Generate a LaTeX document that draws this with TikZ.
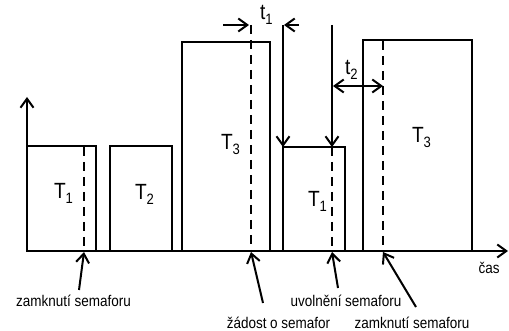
\documentclass[tikz,border=0pt]{standalone}
\usepackage{fontspec}
\setmainfont{Liberation Sans}[FakeStretch=0.87]
\usetikzlibrary{arrows.meta}
\newcommand\Tsub[2]{#1\raisebox{-5pt}{\fontsize{15}{15}\selectfont #2}}
\begin{document}
\begin{tikzpicture}[x=1pt,y=-1pt,line width=2pt,
  arr/.style={-{Straight Barb[length=9pt,width=13pt]}},
  dbl/.style={{Straight Barb[length=9pt,width=13pt]}-{Straight Barb[length=9pt,width=13pt]}},
  dsh/.style={dash pattern=on 9pt off 6pt},
  lbl/.style={font=\fontsize{15.5}{16}\selectfont,inner sep=0pt,anchor=base},
  tl/.style={font=\fontsize{22}{22}\selectfont,inner sep=0pt,anchor=base west}]
\useasboundingbox (0,0) rectangle (509,331);
% axes
\coordinate (O) at (27,251);
\coordinate (ytip) at (27,97);
\coordinate (xtip) at (508,251);
\draw[arr] (O) -- (ytip);
\draw[arr] (O) -- (xtip);
% boxes
\draw (27,251) rectangle (96,146);
\draw (110,251) rectangle (172,146);
\draw (182,251) rectangle (270,42);
\draw (283,251) rectangle (345,147);
\draw (363,251) rectangle (472,40);
% dashed lines
\coordinate (d1t) at (84,147);  \coordinate (d1b) at (84,251);
\coordinate (d2t) at (251,25);  \coordinate (d2b) at (251,251);
\coordinate (d3t) at (332,147); \coordinate (d3b) at (332,251);
\coordinate (d4t) at (383,41);  \coordinate (d4b) at (383,251);
\draw[dsh] (d1t) -- (d1b);
\draw[dsh] (d2t) -- (d2b);
\draw[dsh] (d3t) -- (d3b);
\draw[dsh] (d4t) -- (d4b);
% t1 markers
\coordinate (a1s) at (223,25); \coordinate (a1e) at (249,25);
\coordinate (a2s) at (299,25); \coordinate (a2e) at (284,25);
\coordinate (v1t) at (283,25); \coordinate (v1b) at (283,147);
\coordinate (v2t) at (332,25); \coordinate (v2b) at (332,147);
\draw[arr] (a1s) -- (a1e);
\draw[arr] (a2s) -- (a2e);
\draw[arr] (v1t) -- (v1b);
\draw[arr] (v2t) -- (v2b);
% t2
\coordinate (t2a) at (333,86); \coordinate (t2b) at (383,86);
\draw[dbl] (t2a) -- (t2b);
% task labels
\node[tl] (T1a) at (53,199) {\Tsub{T}{1}};
\node[tl] (T2)  at (134,200) {\Tsub{T}{2}};
\node[tl] (T3a) at (220,150) {\Tsub{T}{3}};
\node[tl] (T1b) at (307,207) {\Tsub{T}{1}};
\node[tl] (T3b) at (411,143) {\Tsub{T}{3}};
\node[tl] (lt1) at (259,20) {\Tsub{t}{1}};
\node[tl] (lt2) at (344,75) {\Tsub{t}{2}};
% bottom labels
\node[lbl] (zam1) at (73.5,307) {zamknutí semaforu};
\node[lbl] (zad)  at (278.5,328) {žádost o semafor};
\node[lbl] (uvo)  at (346,307) {uvolnění semaforu};
\node[lbl] (zam2) at (412,328) {zamknutí semaforu};
\node[lbl] (cas)  at (489,273) {čas};
% callout arrows
\coordinate (c1s) at (79,290);  \coordinate (c1e) at (84,252);
\coordinate (c2s) at (263,303); \coordinate (c2e) at (251,252);
\coordinate (c3s) at (338,288); \coordinate (c3e) at (332,252);
\coordinate (c4s) at (416,307); \coordinate (c4e) at (383,252);
\draw[arr] (c1s) -- (c1e);
\draw[arr] (c2s) -- (c2e);
\draw[arr] (c3s) -- (c3e);
\draw[arr] (c4s) -- (c4e);
\end{tikzpicture}
\end{document}
